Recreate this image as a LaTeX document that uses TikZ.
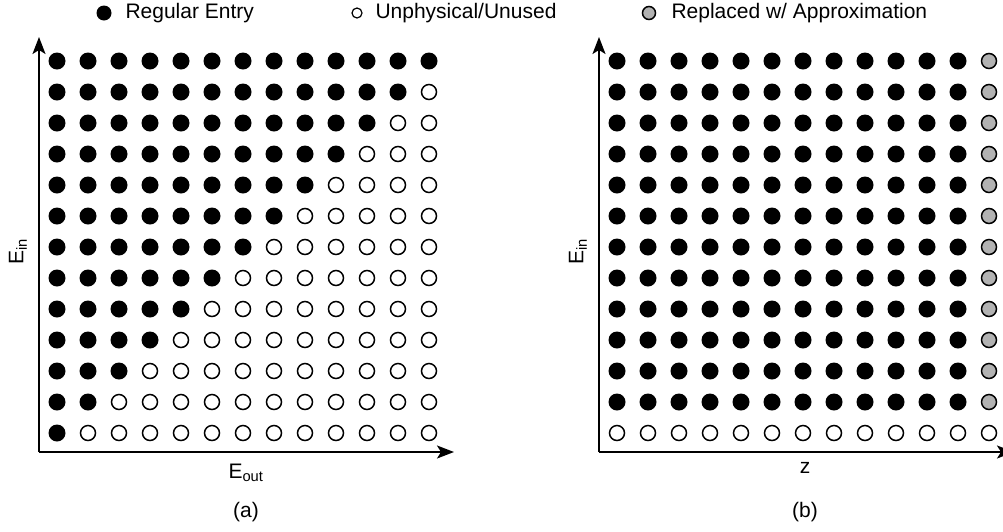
\documentclass[tikz,border=0pt]{standalone}
\usepackage{fontspec}
\setmainfont{Liberation Sans}
\usepackage{xcolor}
\usepackage{tikz}
\usetikzlibrary{calc}
\usetikzlibrary{arrows.meta}

\tikzset{
  regular/.style={circle,fill=black,minimum size=17pt,inner sep=0pt},
  unused/.style={circle,draw=black,line width=1.5pt,fill=white,minimum size=15pt,inner sep=0pt},
  replaced/.style={circle,draw=black,line width=1.5pt,fill=gray!60,minimum size=15pt,inner sep=0pt},
  axis/.style={line width=1.7pt,-{Stealth[length=17pt,width=13pt,inset=4pt]}},
  lbl/.style={font=\fontsize{21}{25}\selectfont}
}

\begin{document}
\begin{tikzpicture}[x=1pt,y=-1pt]
\useasboundingbox (0,0) rectangle (1003,531);

% Legend
\node[regular,minimum size=15pt] (keyreg) at (104,13) {};
\node[lbl,anchor=west] (keyregtxt) at (122,13) {Regular Entry};
\node[circle,draw=black,line width=1.2pt,minimum size=10pt,inner sep=0pt] (keyunu) at (357,13) {};
\node[lbl,anchor=west] (keyunutxt) at (372,13) {Unphysical/Unused};
\node[replaced,minimum size=13pt] (keyrep) at (649,13) {};
\node[lbl,anchor=west] (keyreptxt) at (668,13) {Replaced w/ Approximation};

% Panel (a): entries above the anti-diagonal
\foreach \r in {0,...,12}{
  \foreach \c in {0,...,12}{
    \pgfmathtruncatemacro{\s}{\r+\c}
    \ifnum\s<13
      \node[regular] (a-\r-\c) at ({57+31*\c},{61+31*\r}) {};
    \else
      \node[unused] (a-\r-\c) at ({57+31*\c},{61+31*\r}) {};
    \fi
  }
}

% Axes (a)
\coordinate (oa) at (39,452);
\coordinate (ya) at (39,37);
\coordinate (xa) at (454,452);
\draw[axis] (oa) -- (ya);
\draw[axis] (oa) -- (xa);
\node[lbl,rotate=90] (eina) at (18,252) {E\textsubscript{in}};
\node[lbl,anchor=base] (eout) at (246,478) {E\textsubscript{out}};
\node[lbl,anchor=base] (capa) at (246,517) {(a)};

% Panel (b): last column replaced, bottom row unused
\foreach \r in {0,...,12}{
  \foreach \c in {0,...,12}{
    \ifnum\r=12
      \node[unused] (b-\r-\c) at ({617+31*\c},{61+31*\r}) {};
    \else
      \ifnum\c=12
        \node[replaced] (b-\r-\c) at ({617+31*\c},{61+31*\r}) {};
      \else
        \node[regular] (b-\r-\c) at ({617+31*\c},{61+31*\r}) {};
      \fi
    \fi
  }
}

% Axes (b)
\coordinate (ob) at (599,452);
\coordinate (yb) at (599,37);
\coordinate (xb) at (1014,452);
\draw[axis] (ob) -- (yb);
\draw[axis] (ob) -- (xb);
\node[lbl,rotate=90] (einb) at (578,252) {E\textsubscript{in}};
\node[lbl,anchor=base] (zlab) at (805,473) {z};
\node[lbl,anchor=base] (capb) at (805,517) {(b)};
\end{tikzpicture}
\end{document}
